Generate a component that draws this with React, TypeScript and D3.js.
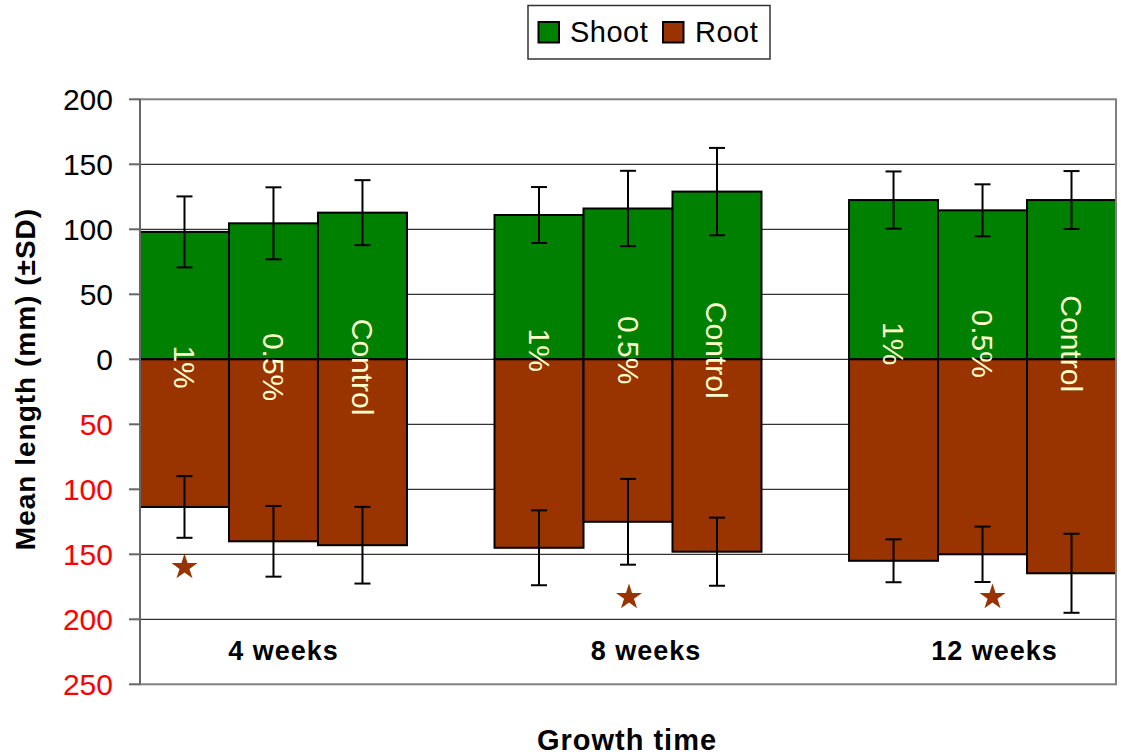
import React from "react";
import * as d3 from "d3";

// growth periods and treatments
const groups = ["4 weeks", "8 weeks", "12 weeks"];
const treatments = ["1%", "0.5%", "Control"];

// shoot length, mean and SD (mm), one row per group
const shootMean = [
  [98, 104.6, 112.8],
  [111, 116, 129],
  [122.5, 114.6, 122.5],
];
const shootSD = [
  [27.3, 27.7, 25],
  [21.5, 29, 33.6],
  [22, 20, 22.3],
];

// root length, drawn downwards
const rootMean = [
  [113.6, 140, 143],
  [145, 125, 148],
  [155, 150, 164.6],
];
const rootSD = [
  [23.7, 27.2, 29.5],
  [28.8, 33, 26.2],
  [16.5, 21.3, 30.4],
];

// significance stars: group, treatment, depth (mm)
const stars = [
  { g: 0, t: 0, v: 160 },
  { g: 1, t: 1, v: 183 },
  { g: 2, t: 1, v: 183 },
];

const yTicks = [200, 150, 100, 50, 0, -50, -100, -150, -200, -250];

const GREEN = "#008000";
const BROWN = "#993300";
const FONT = "'Liberation Sans', Arial, sans-serif";

export default function App() {
  const W = 1121;
  const H = 756;
  const margin = { top: 99.3, right: 5, bottom: 71.7, left: 140 };
  const iw = W - margin.left - margin.right;
  const ih = H - margin.top - margin.bottom;

  const x0 = d3.scaleBand().domain(groups).range([0, iw]).paddingInner(0.247).paddingOuter(0);
  const x1 = d3.scaleBand().domain(treatments).range([0, x0.bandwidth()]).padding(0);
  const y = d3.scaleLinear().domain([-250, 200]).range([ih, 0]);

  // centre of rotated bar labels per group (mm), label shift of category text
  const labelMid = [-6, 7, 12];
  const catShift = [10, 18, 12];
  const starShift = [0, 1, 10];

  const cap = 8;
  const star = d3.symbol().type(d3.symbolStar).size(210)();

  return (
    <svg width={W} height={H} style={{ position: "absolute", left: 0, top: 0, background: "#fff" }} fontFamily={FONT}>
      {/* legend */}
      <g>
        <rect x={528} y={5.5} width={242} height={53.5} fill="#fff" stroke="#333" strokeWidth={1.5} />
        <rect x={538.5} y={22} width={20.5} height={20.5} fill={GREEN} stroke="#000" strokeWidth={2} />
        <text x={570} y={42} fontSize={29} letterSpacing={0.5}>Shoot</text>
        <rect x={663} y={22} width={20.5} height={20.5} fill={BROWN} stroke="#000" strokeWidth={2} />
        <text x={695} y={42} fontSize={29} letterSpacing={0.5}>Root</text>
      </g>

      <g transform={`translate(${margin.left},${margin.top})`}>
        {/* gridlines */}
        {yTicks.filter((t) => t !== 200 && t !== -250).map((t) => (
          <line key={t} x1={0} x2={iw} y1={y(t)} y2={y(t)} stroke="#000" strokeWidth={1} />
        ))}

        {/* bars */}
        {groups.map((g, gi) => (
          <g key={g} transform={`translate(${x0(g)},0)`}>
            {treatments.map((t, ti) => (
              <g key={t}>
                <rect x={x1(t)} y={y(shootMean[gi][ti])} width={x1.bandwidth()}
                  height={y(0) - y(shootMean[gi][ti])} fill={GREEN} stroke="#000" strokeWidth={2} />
                <rect x={x1(t)} y={y(0)} width={x1.bandwidth()}
                  height={y(-rootMean[gi][ti]) - y(0)} fill={BROWN} stroke="#000" strokeWidth={2} />
              </g>
            ))}
            {treatments.map((t, ti) => {
              const cx = x1(t)! + x1.bandwidth() / 2;
              const sm = shootMean[gi][ti], ss = shootSD[gi][ti];
              const rm = -rootMean[gi][ti], rs = rootSD[gi][ti];
              return (
                <g key={t + "e"} stroke="#000" strokeWidth={2}>
                  <line x1={cx} x2={cx} y1={y(sm + ss)} y2={y(sm - ss)} />
                  <line x1={cx - cap} x2={cx + cap} y1={y(sm + ss)} y2={y(sm + ss)} />
                  <line x1={cx - cap} x2={cx + cap} y1={y(sm - ss)} y2={y(sm - ss)} />
                  <line x1={cx} x2={cx} y1={y(rm + rs)} y2={y(rm - rs)} />
                  <line x1={cx - cap} x2={cx + cap} y1={y(rm + rs)} y2={y(rm + rs)} />
                  <line x1={cx - cap} x2={cx + cap} y1={y(rm - rs)} y2={y(rm - rs)} />
                </g>
              );
            })}
            {treatments.map((t, ti) => {
              const cx = x1(t)! + x1.bandwidth() / 2;
              return (
                <text key={t + "l"} transform={`translate(${cx},${y(labelMid[gi])}) rotate(90)`}
                  textAnchor="middle" dy="0.35em" fontSize={30} fill="#FFFFCC">{t}</text>
              );
            })}
            <text x={x0.bandwidth() / 2 + catShift[gi]} y={660 - margin.top} textAnchor="middle"
              fontSize={27} fontWeight="bold" letterSpacing={1}>{g}</text>
          </g>
        ))}

        {/* stars */}
        {stars.map((s, i) => (
          <path key={i} d={star!} fill={BROWN}
            transform={`translate(${x0(groups[s.g])! + x1(treatments[s.t])! + x1.bandwidth() / 2 + starShift[s.g]},${y(-s.v)})`} />
        ))}

        {/* plot frame and axis */}
        <rect x={0} y={0} width={iw} height={ih} fill="none" stroke="#808080" strokeWidth={2} />
        <line x1={0} x2={0} y1={0} y2={ih} stroke="#666" strokeWidth={2} />
        {yTicks.map((t) => (
          <g key={t} transform={`translate(0,${y(t)})`}>
            <line x1={-11} x2={0} stroke="#666" strokeWidth={2} />
            <text x={-27} dy="0.35em" textAnchor="end" fontSize={30} fill={t < 0 ? "#FF0000" : "#000"}>
              {Math.abs(t)}
            </text>
          </g>
        ))}
      </g>

      {/* axis titles */}
      <text transform="translate(35,379) rotate(-90)" textAnchor="middle" fontSize={28}
        fontWeight="bold" letterSpacing={1}>Mean length (mm) (±SD)</text>
      <text x={627} y={750} textAnchor="middle" fontSize={29} fontWeight="bold" letterSpacing={1}>Growth time</text>
    </svg>
  );
}
